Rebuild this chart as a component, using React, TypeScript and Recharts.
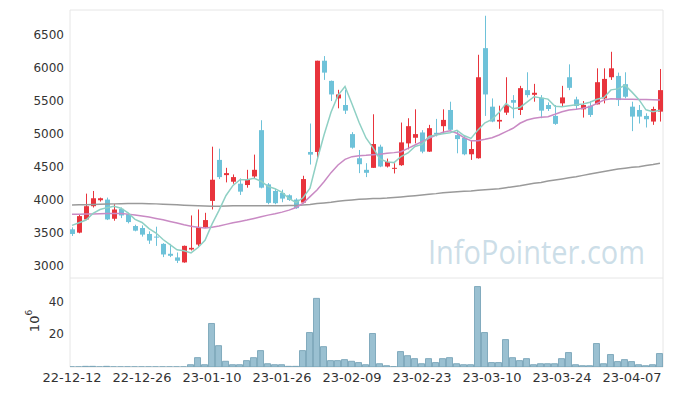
import { ComposedChart, Bar, Line, Scatter, XAxis, YAxis, CartesianGrid } from 'recharts'

// trading days shown on the chart
const dates = [
  '22-12-12', '22-12-13', '22-12-14', '22-12-15', '22-12-16', '22-12-19', '22-12-20', '22-12-21', '22-12-22', '22-12-23',
  '22-12-26', '22-12-27', '22-12-28', '22-12-29', '23-01-02', '23-01-03', '23-01-04', '23-01-05', '23-01-06', '23-01-09',
  '23-01-10', '23-01-11', '23-01-12', '23-01-13', '23-01-16', '23-01-17', '23-01-18', '23-01-19', '23-01-20', '23-01-25',
  '23-01-26', '23-01-27', '23-01-30', '23-01-31', '23-02-01', '23-02-02', '23-02-03', '23-02-06', '23-02-07', '23-02-08',
  '23-02-09', '23-02-10', '23-02-13', '23-02-14', '23-02-15', '23-02-16', '23-02-17', '23-02-20', '23-02-21', '23-02-22',
  '23-02-23', '23-02-24', '23-02-27', '23-02-28', '23-03-02', '23-03-03', '23-03-06', '23-03-07', '23-03-08', '23-03-09',
  '23-03-10', '23-03-13', '23-03-14', '23-03-15', '23-03-16', '23-03-17', '23-03-20', '23-03-21', '23-03-22', '23-03-23',
  '23-03-24', '23-03-27', '23-03-28', '23-03-29', '23-03-30', '23-03-31', '23-04-03', '23-04-04', '23-04-05', '23-04-06',
  '23-04-07', '23-04-10', '23-04-11', '23-04-12', '23-04-13',
]

const opens = [
  3550, 3500, 3700, 3900, 3990, 4000, 3710, 3860, 3780, 3600,
  3570, 3480, 3440, 3330, 3180, 3125, 3050, 3245, 3320, 3580,
  3980, 4600, 4370, 4270, 4240, 4220, 4350, 5050, 4230, 4130,
  4100, 4065, 4000, 3955, 4720, 4720, 6100, 5795, 5530, 5430,
  4990, 4625, 4450, 4480, 4800, 4500, 4470, 4520, 4850, 4935,
  5015, 4725, 5010, 5110, 5355, 4975, 4935, 4685, 4625, 6290,
  5405, 5180, 5315, 5505, 5355, 5655, 5585, 5540, 5430, 5265,
  5455, 5850, 5515, 5365, 5420, 5440, 5530, 5850, 5870, 5745,
  5405, 5355, 5265, 5180, 5330,
]
const highs = [
  3580, 3780, 4090, 4130, 4030, 4030, 3930, 3880, 3800, 3620,
  3610, 3520, 3590, 3340, 3330, 3200, 3305, 3760, 3850, 3800,
  4800, 4770, 4480, 4380, 4320, 4450, 4680, 5200, 4250, 4160,
  4150, 4080, 4020, 4360, 5150, 6100, 6170, 5800, 5660, 5660,
  5020, 4750, 4550, 5290, 4830, 4620, 4550, 5165, 5230, 5365,
  5050, 5130, 5220, 5365, 5480, 5050, 4960, 4890, 6190, 6780,
  5530, 5420, 5850, 5580, 5720, 5925, 5750, 5580, 5470, 5430,
  5720, 6045, 5555, 5490, 5490, 5985, 5985, 6235, 5920, 5925,
  5480, 5430, 5305, 5405, 5975,
]
const lows = [
  3450, 3490, 3690, 3880, 3970, 3690, 3680, 3720, 3640, 3520,
  3440, 3330, 3300, 3130, 3130, 3040, 3045, 3230, 3290, 3570,
  3850, 4310, 4260, 4240, 4070, 4180, 4320, 4170, 3930, 3930,
  3960, 3980, 3860, 3945, 4530, 4630, 5810, 5490, 5380, 5295,
  4770, 4400, 4340, 4480, 4490, 4485, 4395, 4510, 4760, 4850,
  4700, 4720, 4955, 5000, 5045, 4700, 4670, 4600, 4620, 5265,
  5170, 5070, 5280, 5230, 5280, 5545, 5480, 5230, 5340, 5130,
  5415, 5655, 5355, 5240, 5250, 5440, 5455, 5810, 5415, 5530,
  5035, 5150, 5090, 5130, 5180,
]
const closes = [
  3480, 3750, 3900, 4020, 4020, 3700, 3850, 3760, 3660, 3530,
  3470, 3380, 3430, 3170, 3150, 3075, 3300, 3270, 3580, 3690,
  4300, 4340, 4400, 4340, 4120, 4300, 4450, 4180, 3950, 3945,
  4015, 3995, 3870, 4310, 4680, 6100, 5920, 5590, 5590, 5345,
  4785, 4535, 4405, 4840, 4500, 4570, 4480, 4865, 5110, 4990,
  4725, 5080, 4985, 5205, 5055, 4915, 4685, 4765, 5850, 5590,
  5180, 5205, 5430, 5465, 5685, 5580, 5615, 5345, 5370, 5145,
  5545, 5690, 5415, 5430, 5280, 5775, 5825, 5985, 5505, 5555,
  5255, 5255, 5215, 5370, 5655,
]

// moving averages as drawn (5-day, 20-day, long)
const ma5 = [
  3610, 3650, 3690, 3790, 3850, 3878, 3898, 3870, 3798, 3700,
  3654, 3560, 3494, 3396, 3320, 3241, 3225, 3193, 3275, 3383,
  3628, 3836, 4062, 4214, 4300, 4300, 4322, 4278, 4200, 4165,
  4108, 4017, 3955, 4027, 4174, 4591, 4976, 5320, 5576, 5709,
  5446, 5169, 4932, 4782, 4613, 4570, 4559, 4651, 4705, 4803,
  4834, 4954, 4978, 4997, 5010, 5048, 4969, 4925, 5054, 5161,
  5214, 5318, 5451, 5374, 5393, 5473, 5555, 5538, 5519, 5411,
  5404, 5419, 5433, 5445, 5472, 5518, 5545, 5659, 5674, 5729,
  5625, 5511, 5357, 5330, 5350,
]
const ma20 = [
  3777, 3778, 3780, 3782, 3785, 3788, 3790, 3788, 3780, 3765,
  3750, 3735, 3715, 3695, 3670, 3645, 3620, 3598, 3580, 3572,
  3580, 3600, 3625, 3650, 3670, 3690, 3715, 3740, 3765, 3785,
  3810, 3840, 3880, 3944, 4044, 4145, 4270, 4407, 4523, 4609,
  4649, 4664, 4669, 4679, 4684, 4700, 4710, 4724, 4775, 4826,
  4876, 4927, 4977, 5018, 5042, 5003, 4936, 4891, 4891, 4911,
  4936, 4977, 5027, 5078, 5154, 5204, 5229, 5244, 5254, 5290,
  5329, 5355, 5365, 5381, 5405, 5456, 5506, 5526, 5521, 5516,
  5516, 5515, 5513, 5511, 5506,
]
const maLong = [
  3918, 3920, 3922, 3925, 3928, 3932, 3935, 3938, 3940, 3940,
  3940, 3938, 3935, 3930, 3925, 3920, 3915, 3910, 3905, 3902,
  3900, 3900, 3902, 3905, 3905, 3905, 3905, 3906, 3906, 3907,
  3908, 3910, 3912, 3918, 3925, 3940, 3950, 3960, 3975, 3985,
  3995, 4004, 4010, 4015, 4018, 4022, 4030, 4040, 4050, 4058,
  4068, 4080, 4090, 4105, 4112, 4120, 4125, 4130, 4140, 4148,
  4156, 4165, 4180, 4195, 4210, 4228, 4246, 4260, 4280, 4296,
  4312, 4330, 4346, 4366, 4386, 4407, 4425, 4445, 4462, 4475,
  4488, 4497, 4515, 4530, 4548,
]

// volume, millions
const volumes = [
  0.1, 0.1, 0.4, 0.4, 0.1, 0.4, 0.1, 0.1, 0.1, 0.1,
  0.1, 0.1, 0.1, 0.1, 0.1, 0.1, 0.1, 1.4, 5.7, 1.4,
  26.5, 13, 3.5, 1.4, 1.4, 3.9, 5.7, 10, 2, 1.4,
  1.4, 0.4, 0.4, 10, 21, 41.8, 12.4, 3.9, 3.9, 4.5,
  3.5, 2.7, 1.4, 20.4, 2, 0.8, 0.2, 9.4, 6.9, 5.1,
  2, 5.1, 2.7, 5.1, 5.7, 2, 1.4, 1.4, 49, 21,
  2.7, 2.7, 16.7, 5.7, 3.9, 5.1, 1.4, 2, 2, 2,
  5.1, 8.8, 1.4, 0.8, 0.8, 14.3, 2, 7.6, 3.3, 4.5,
  3.3, 1.4, 0.8, 1.4, 8.2,
]

const xTicks = [0, 10, 20, 30, 40, 50, 60, 70, 80]
const priceTicks = [3000, 3500, 4000, 4500, 5000, 5500, 6000, 6500]
const volumeTicks = [20, 40]

const UP = '#e8343c'
const DOWN = '#6ec2d9'
const FONT = '"DejaVu Sans", sans-serif'
const X_DOMAIN: [number, number] = [-0.29, 84.43]

const rows = dates.map((date, i) => ({
  i,
  date,
  open: opens[i],
  high: highs[i],
  low: lows[i],
  close: closes[i],
  ma5: ma5[i],
  ma20: ma20[i],
  maLong: maLong[i],
  volume: volumes[i],
}))

const priceMarks = xTicks.flatMap((x) => priceTicks.map((y) => ({ x, y })))
const volumeMarks = xTicks.flatMap((x) => volumeTicks.map((y) => ({ x, y })))

const Candle = (props: any) => {
  const { x, y, width, height, payload } = props
  const { open, close, high, low } = payload
  const color = close >= open ? UP : DOWN
  const k = height / (high - low)
  const top = y + (high - Math.max(open, close)) * k
  const bodyH = Math.max(1, Math.abs(open - close) * k)
  const cx = Math.round(x + width / 2) + 0.5
  return (
    <g>
      <line x1={cx} x2={cx} y1={y} y2={y + height} stroke={color} strokeWidth={1} />
      <rect x={cx - 2.5} y={top} width={5} height={bodyH} fill={color} />
    </g>
  )
}

// small "+" marks where the grid lines would cross
const Cross = (props: any) => {
  const { cx, cy } = props
  return (
    <g stroke="#dedede" strokeWidth={1}>
      <line x1={cx - 2.5} x2={cx + 2.5} y1={cy} y2={cy} />
      <line x1={cx} x2={cx} y1={cy - 2.5} y2={cy + 2.5} />
    </g>
  )
}

const frameH = ({ offset }: any) => [offset.top, offset.top + offset.height]
const frameV = ({ offset }: any) => [offset.left, offset.left + offset.width]

const tickStyle = { fontSize: 12, fill: '#333', fontFamily: FONT }

export default function App() {
  return (
    <div style={{ position: 'absolute', left: 0, top: 0, width: 673, height: 396, background: '#fff' }}>
      <ComposedChart width={673} height={278} data={rows} margin={{ top: 10, right: 10, left: 0, bottom: 0 }}>
        <CartesianGrid stroke="#e6e6e6" horizontalCoordinatesGenerator={frameH} verticalCoordinatesGenerator={frameV} />
        <XAxis dataKey="i" type="number" domain={X_DOMAIN} ticks={xTicks} hide allowDataOverflow />
        <YAxis
          type="number"
          domain={[2814, 6867]}
          ticks={priceTicks}
          width={70}
          axisLine={false}
          tickLine={false}
          tickMargin={0}
          tick={tickStyle}
          allowDataOverflow
        />
        <Scatter data={priceMarks} dataKey="y" shape={Cross} isAnimationActive={false} />
        <Bar dataKey={(d: any) => [d.low, d.high]} barSize={5} shape={Candle} isAnimationActive={false} />
        <Line dataKey="maLong" type="linear" stroke="#9a9a9a" strokeWidth={1.5} dot={false} isAnimationActive={false} />
        <Line dataKey="ma20" type="linear" stroke="#c98ac4" strokeWidth={1.5} dot={false} isAnimationActive={false} />
        <Line dataKey="ma5" type="linear" stroke="#8fd0c4" strokeWidth={1.5} dot={false} isAnimationActive={false} />
      </ComposedChart>
      <ComposedChart width={673} height={118} data={rows} margin={{ top: 0, right: 10, left: 0, bottom: 0 }}>
        <CartesianGrid stroke="#e6e6e6" horizontalCoordinatesGenerator={frameH} verticalCoordinatesGenerator={frameV} />
        <XAxis
          dataKey="i"
          type="number"
          domain={X_DOMAIN}
          ticks={xTicks}
          height={29}
          axisLine={false}
          tickLine={false}
          tickMargin={0}
          tick={{ ...tickStyle, fontSize: 13 }}
          tickFormatter={(v: number) => dates[v]}
          interval={0}
          allowDataOverflow
        />
        <YAxis
          type="number"
          domain={[0, 54.2]}
          ticks={volumeTicks}
          width={70}
          axisLine={false}
          tickLine={false}
          tickMargin={0}
          tick={tickStyle}
          allowDataOverflow
          label={{
            content: () => (
              <text x={34} y={43} transform="rotate(-90 34 43)" textAnchor="middle" dominantBaseline="central" fontSize={13} fill="#333" fontFamily={FONT}>
                10<tspan dy={-5} fontSize={9}>6</tspan>
              </text>
            ),
          }}
        />
        <Scatter data={volumeMarks} dataKey="y" shape={Cross} isAnimationActive={false} />
        <Bar dataKey="volume" barSize={6} fill="#9ac0d1" stroke="#6f9db3" strokeOpacity={0.8} isAnimationActive={false} />
      </ComposedChart>
      <svg width={673} height={396} style={{ position: 'absolute', left: 0, top: 0, pointerEvents: 'none' }}>
        <text x={428} y={264} textLength={217} lengthAdjust="spacingAndGlyphs" fontSize={32} fontFamily='"Open Sans", sans-serif' fill="#c3d8e4" fillOpacity={0.85}>
          InfoPointer.com
        </text>
      </svg>
    </div>
  )
}
